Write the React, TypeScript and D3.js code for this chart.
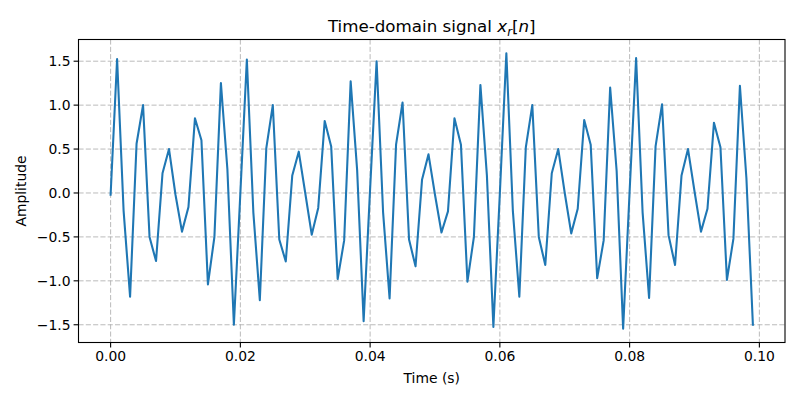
import React from "react";
import * as d3 from "d3";

const sampleStep = 0.001;
const amplitudes: number[] = [
  -0.02, 1.525, -0.2, -1.18, 0.56, 1.0, -0.5, -0.775, 0.225, 0.5,
  -0.02, -0.44, -0.16, 0.85, 0.6, -1.04, -0.5, 1.25, 0.27, -1.5,
  0.0, 1.52, -0.22, -1.22, 0.51, 1.0, -0.53, -0.78, 0.2, 0.47,
  0.0, -0.475, -0.17, 0.82, 0.53, -0.98, -0.54, 1.27, 0.26, -1.46,
  0.05, 1.5, -0.22, -1.2, 0.55, 1.03, -0.53, -0.835, 0.15, 0.44,
  -0.02, -0.45, -0.21, 0.85, 0.55, -1.01, -0.5, 1.23, 0.2, -1.525,
  0.0, 1.59, -0.2, -1.18, 0.52, 1.0, -0.5, -0.82, 0.225, 0.5,
  0.0, -0.46, -0.18, 0.83, 0.55, -0.97, -0.54, 1.2, 0.25, -1.545,
  0.02, 1.535, -0.22, -1.195, 0.53, 1.01, -0.48, -0.82, 0.2, 0.5,
  0.02, -0.44, -0.18, 0.8, 0.52, -0.99, -0.52, 1.22, 0.17, -1.5,
];
const times: number[] = amplitudes.map((_, i) => +(i * sampleStep).toFixed(3));
const xTicks: number[] = [0, 0.02, 0.04, 0.06, 0.08, 0.1];
const yTicks: number[] = [-1.5, -1.0, -0.5, 0.0, 0.5, 1.0, 1.5];

const W = 800;
const H = 400;
const left = 78.5;
const right = 785;
const top = 39.5;
const bottom = 342.5;
const font = "DejaVu Sans, sans-serif";

export default function App() {
  const x = d3.scaleLinear().domain([-0.00495, 0.10395]).range([left, right]);
  const y = d3.scaleLinear().domain([-1.702, 1.747]).range([bottom, top]);
  const line = d3
    .line<number>()
    .x((_, i) => x(times[i]))
    .y((d) => y(d));
  const fmtY = (v: number) => v.toFixed(1).replace("-", "\u2212");

  return (
    <svg width={W} height={H} style={{ position: "absolute", left: 0, top: 0, background: "#fff" }}>
      <rect x={0} y={0} width={W} height={H} fill="#fff" />
      {xTicks.map((t) => (
        <line key={"gx" + t} x1={x(t)} x2={x(t)} y1={top} y2={bottom}
          stroke="#b0b0b0" strokeWidth={1} strokeDasharray="5.1,2.2" opacity={0.85} />
      ))}
      {yTicks.map((t) => (
        <line key={"gy" + t} x1={left} x2={right} y1={y(t)} y2={y(t)}
          stroke="#b0b0b0" strokeWidth={1} strokeDasharray="5.1,2.2" opacity={0.85} />
      ))}
      <path d={line(amplitudes) || ""} fill="none" stroke="#1f77b4" strokeWidth={2.08}
        strokeLinejoin="round" strokeLinecap="square" />
      <rect x={left} y={top} width={right - left} height={bottom - top}
        fill="none" stroke="#000" strokeWidth={1.1} />
      {xTicks.map((t) => (
        <g key={"tx" + t}>
          <line x1={x(t)} x2={x(t)} y1={bottom} y2={bottom + 4.9} stroke="#000" strokeWidth={1.1} />
          <text x={x(t)} y={bottom + 18} textAnchor="middle" fontFamily={font} fontSize={13.9} fill="#000">
            {t.toFixed(2)}
          </text>
        </g>
      ))}
      {yTicks.map((t) => (
        <g key={"ty" + t}>
          <line x1={left - 4.9} x2={left} y1={y(t)} y2={y(t)} stroke="#000" strokeWidth={1.1} />
          <text x={left - 8} y={y(t) + 5} textAnchor="end" fontFamily={font} fontSize={13.9} fill="#000">
            {fmtY(t)}
          </text>
        </g>
      ))}
      <text x={(left + right) / 2} y={383} textAnchor="middle" fontFamily={font} fontSize={13.9} fill="#000">
        Time (s)
      </text>
      <text transform={`translate(26,${(top + bottom) / 2}) rotate(-90)`} textAnchor="middle"
        fontFamily={font} fontSize={13.9} fill="#000">
        Amplitude
      </text>
      <text x={(left + right) / 2} y={top - 8} textAnchor="middle" fontFamily={font} fontSize={16.7} fill="#000">
        Time-domain signal{" "}
        <tspan fontStyle="italic">x</tspan>
        <tspan fontStyle="italic" fontSize={11.7} dy={4}>r</tspan>
        <tspan dy={-4}>[</tspan>
        <tspan fontStyle="italic">n</tspan>
        <tspan>]</tspan>
      </text>
    </svg>
  );
}
